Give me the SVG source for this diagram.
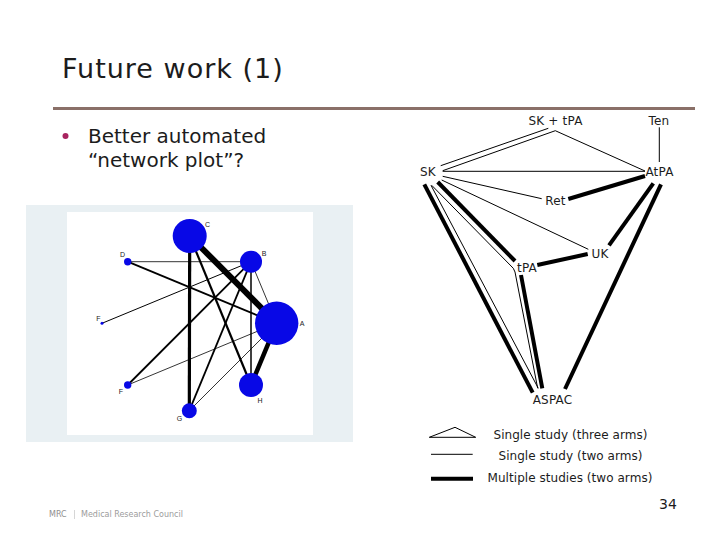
<svg xmlns="http://www.w3.org/2000/svg" width="720" height="540" viewBox="0 0 720 540">
<style>
text{font-family:"DejaVu Sans",Verdana,sans-serif;fill:#1c1c1c}
.n{font-size:12px;text-anchor:middle;letter-spacing:.2px}
.l{font-size:12px;text-anchor:middle;letter-spacing:.05px}
.thin{stroke:#000;stroke-width:1;fill:none}
.thick{stroke:#000;stroke-width:4;fill:none}
.pl{stroke:#000;fill:none}
.dot{fill:#0808e6}
.pt{font-family:"Liberation Sans",Arial,sans-serif;font-size:7px;fill:#222;text-anchor:middle}
</style>
<rect width="720" height="540" fill="#fff"/>
<text x="62" y="78" font-size="27" letter-spacing="1" fill="#222">Future work (1)</text>
<rect x="53" y="107" width="642" height="3" fill="#8a7068"/>
<circle cx="65.500" cy="136" r="3" fill="#a8245f"/>
<text x="88" y="143" font-size="20">Better automated</text>
<text x="88" y="167" font-size="20">“network plot”?</text>

<rect x="26" y="205" width="327" height="237" fill="#e9f0f3"/>
<rect x="67" y="212" width="246" height="223" fill="#fff"/>
<g id="plot-edges">
<line class="pl" x1="189.700" y1="236" x2="276.700" y2="323.300" stroke-width="6"/>
<line class="pl" x1="189.700" y1="236" x2="189.300" y2="410.700" stroke-width="3.200"/>
<line class="pl" x1="189.700" y1="236" x2="251" y2="385" stroke-width="2.200"/>
<line class="pl" x1="127.700" y1="261.700" x2="251" y2="261.700" stroke-width="0.800"/>
<line class="pl" x1="127.700" y1="261.700" x2="276.700" y2="323.300" stroke-width="1.800"/>
<line class="pl" x1="251" y1="261.700" x2="102" y2="323.300" stroke-width="1"/>
<line class="pl" x1="251" y1="261.700" x2="127.700" y2="385" stroke-width="1.800"/>
<line class="pl" x1="251" y1="261.700" x2="189.300" y2="410.700" stroke-width="1.800"/>
<line class="pl" x1="251" y1="261.700" x2="251" y2="385" stroke-width="1.500"/>
<line class="pl" x1="251" y1="261.700" x2="276.700" y2="323.300" stroke-width="0.800"/>
<line class="pl" x1="276.700" y1="323.300" x2="251" y2="385" stroke-width="4.500"/>
<line class="pl" x1="276.700" y1="323.300" x2="127.700" y2="385" stroke-width="0.800"/>
<line class="pl" x1="276.700" y1="323.300" x2="189.300" y2="410.700" stroke-width="0.800"/>
</g>
<g id="plot-c"><circle class="dot" cx="189.700" cy="236" r="17"/><text class="pt" x="207.500" y="227">C</text></g>
<g id="plot-b"><circle class="dot" cx="251" cy="261.700" r="11"/><text class="pt" x="264" y="256">B</text></g>
<g id="plot-a"><circle class="dot" cx="276.700" cy="323.300" r="21.700"/><text class="pt" x="302" y="326">A</text></g>
<g id="plot-h"><circle class="dot" cx="251" cy="385" r="12"/><text class="pt" x="260" y="403">H</text></g>
<g id="plot-g"><circle class="dot" cx="189.300" cy="410.700" r="7.500"/><text class="pt" x="179.500" y="421">G</text></g>
<g id="plot-f2"><circle class="dot" cx="127.700" cy="385" r="3.700"/><text class="pt" x="121" y="394">F</text></g>
<g id="plot-f1"><circle class="dot" cx="102" cy="323.300" r="1.500"/><text class="pt" x="98.500" y="321">F</text></g>
<g id="plot-d"><circle class="dot" cx="127.700" cy="261.700" r="3.700"/><text class="pt" x="122.500" y="257">D</text></g>

<g id="connectors">
<line class="thin" x1="440.700" y1="165.700" x2="548.300" y2="128.300"/>
<line class="thin" x1="442.700" y1="170.700" x2="555.300" y2="130.700"/>
<line class="thin" x1="555.300" y1="130.700" x2="645" y2="171"/>
<line class="thin" x1="659.300" y1="127.300" x2="659.300" y2="162"/>
<line class="thin" x1="442.700" y1="171.300" x2="645" y2="171.300"/>
<line class="thin" x1="442.700" y1="176.300" x2="541.700" y2="198.700"/>
<line class="thin" x1="441.700" y1="180" x2="588.300" y2="249.300"/>
<line class="thin" x1="431.700" y1="185.300" x2="513.300" y2="268.300"/>
<line class="thin" x1="513.300" y1="268.300" x2="515" y2="272"/>
<line class="thin" x1="515" y1="272" x2="537.700" y2="388.300"/>
<line class="thin" x1="431" y1="185.300" x2="538.300" y2="388.300"/>
<line class="thick" x1="568.300" y1="199" x2="645" y2="176"/>
<line class="thick" x1="653.300" y1="183.300" x2="609" y2="245.300"/>
<line class="thick" x1="661" y1="184.300" x2="565" y2="389"/>
<line class="thick" x1="537.300" y1="265" x2="587.700" y2="254"/>
<line class="thick" x1="437.700" y1="182" x2="515" y2="261"/>
<line class="thick" x1="521" y1="275" x2="542.300" y2="388.300"/>
<line class="thick" x1="424.300" y1="184.300" x2="532.700" y2="392.700"/>
</g>
<g id="node-sktpa"><text class="n" x="555.500" y="125">SK + tPA</text></g>
<g id="node-ten"><text class="n" x="659" y="125">Ten</text></g>
<g id="node-sk"><text class="n" x="428" y="176">SK</text></g>
<g id="node-atpa"><text class="n" x="659.500" y="176">AtPA</text></g>
<g id="node-ret"><text class="n" x="555.500" y="205">Ret</text></g>
<g id="node-uk"><text class="n" x="600" y="258">UK</text></g>
<g id="node-tpa"><text class="n" x="527" y="272">tPA</text></g>
<g id="node-aspac"><text class="n" x="552.500" y="404">ASPAC</text></g>

<g id="legend">
<path class="thin" d="M429.300 437.300 L455 427.300 L475.700 437.300 Z"/>
<line class="thin" x1="431" y1="454.300" x2="472.700" y2="454.300"/>
<line class="thick" x1="431" y1="478.700" x2="473" y2="478.700"/>
<text class="l" x="570.500" y="439">Single study (three arms)</text>
<text class="l" x="570.500" y="460">Single study (two arms)</text>
<text class="l" x="570" y="482">Multiple studies (two arms)</text>
</g>
<text x="659" y="509" font-size="14">34</text>
<g id="footer">
<text x="49" y="517" font-size="8" style="fill:#8f8f8f">MRC</text>
<rect x="74" y="510" width="0.800" height="9" fill="#ccc"/>
<text x="81" y="517" font-size="8" style="fill:#9c9c9c">Medical Research Council</text>
</g>
</svg>
